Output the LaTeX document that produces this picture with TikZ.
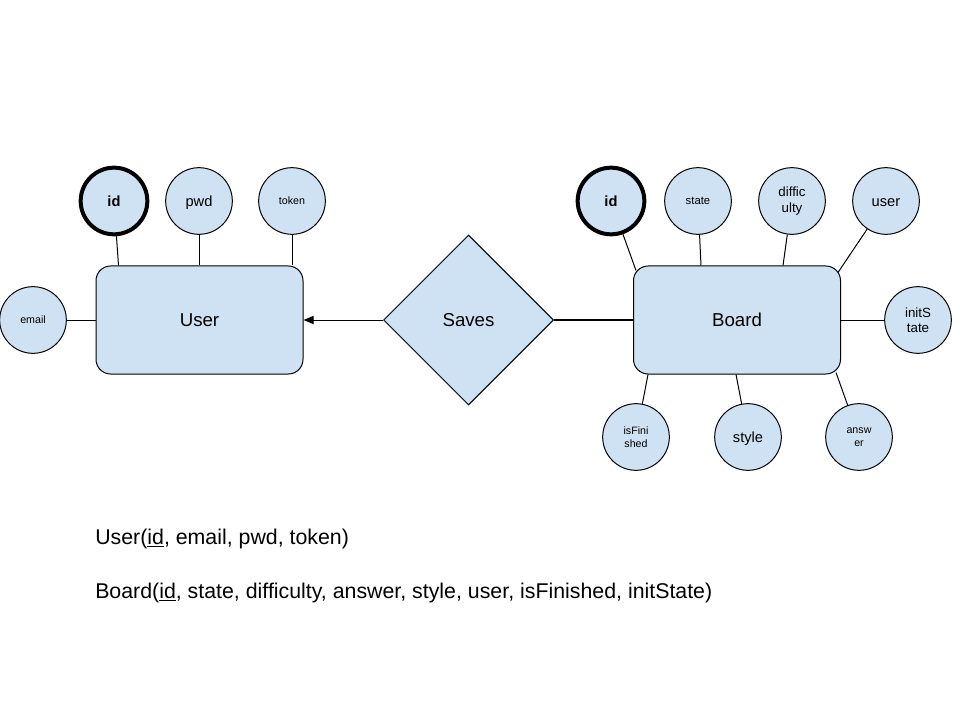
\documentclass[tikz,border=0pt]{standalone}
\usepackage{fontspec}
\setmainfont{Liberation Sans}
\usetikzlibrary{shapes.geometric,arrows.meta,calc}
\definecolor{erfill}{HTML}{CFE2F3}
\begin{document}
\begin{tikzpicture}[x=0.75pt,y=-0.75pt,
  entity/.style={draw, fill=erfill, rounded corners=11pt, minimum width=155.25pt,
    minimum height=81pt, inner sep=0pt, line width=0.75pt, font=\fontsize{14}{16}\selectfont},
  attr/.style={draw, fill=erfill, circle, minimum size=50pt, inner sep=0pt,
    line width=0.75pt},
  twoline/.style={align=center},
  keyattr/.style={attr, line width=3pt, font=\fontsize{11}{13}\selectfont\bfseries},
  rel/.style={draw, fill=erfill, diamond, aspect=1, minimum width=127.5pt,
    minimum height=127.5pt, inner sep=0pt, line width=0.75pt, font=\fontsize{14}{16}\selectfont},
  link/.style={line width=0.75pt},
  big/.style={font=\fontsize{11}{12}\selectfont, text height=2.3ex, text depth=0.6ex},
  mid/.style={font=\fontsize{10}{11.5}\selectfont},
  small/.style={font=\fontsize{8}{10}\selectfont},
  schema/.style={anchor=west, inner sep=0pt, yshift=-1.5pt, font=\fontsize{16}{18}\selectfont}]
\useasboundingbox (0,0) rectangle (960,720);

% entities and relationship
\node[entity] (user) at (199.5,320) {User};
\node[entity] (board) at (737,320) {Board};
\node[rel] (saves) at (468.5,320) {Saves};

% User attributes
\node[keyattr] (uid) at (114,201) {id};
\node[attr,big] (upwd) at (199,201) {pwd};
\node[attr,small] (utoken) at (292,201) {token};
\node[attr,small] (uemail) at (33,320) {email};

% Board attributes
\node[keyattr] (bid) at (611,201) {id};
\node[attr,font=\fontsize{8.5}{10}\selectfont] (bstate) at (698,201) {state};
\node[attr,twoline,mid] (bdiff) at (792,201) {diffic\\ulty};
\node[attr,big] (buser) at (886,201) {user};
\node[attr,twoline,mid] (binit) at (918,320) {initS\\tate};
\node[attr,twoline,small] (bfin) at (636,437) {isFini\\shed};
\node[attr,big] (bstyle) at (748,437) {style};
\node[attr,twoline,small] (bans) at (859,437) {answ\\er};

% relationship connectors
\draw[link, -{Triangle[length=7.5pt,width=6pt]}] (saves.west) -- (user.east);
\draw[line width=1.2pt] (saves.east) -- (board.west);

% User attribute links
\draw[link] (uid) -- ($(user.north west)+(23,0)$);
\draw[link] (upwd) -- (upwd |- user.north);
\draw[link] (utoken) -- (utoken |- user.north);
\draw[link] (uemail) -- (user.west);

% Board attribute links
\draw[link] (bid) -- ($(board.north west)+(3,5)$);
\draw[link] (bstate) -- ($(board.north west)+(68,0)$);
\draw[link] (bdiff) -- ($(board.north west)+(150,0)$);
\draw[link] (buser) -- ($(board.north east)+(-3,7)$);
\draw[link] (binit) -- (board.east);
\draw[link] (bfin) -- ($(board.south west)+(15,0)$);
\draw[link] (bstyle) -- ($(board.south west)+(103,0)$);
\draw[link] (bans) -- ($(board.south east)+(-5,-2)$);

% relational schema
\node[schema] (suser) at (95,537) {User(\underline{id}, email, pwd, token)};
\node[schema] (sboard) at (95,591) {Board(\underline{id}, state, difficulty, answer, style, user, isFinished, initState)};
\end{tikzpicture}
\end{document}
